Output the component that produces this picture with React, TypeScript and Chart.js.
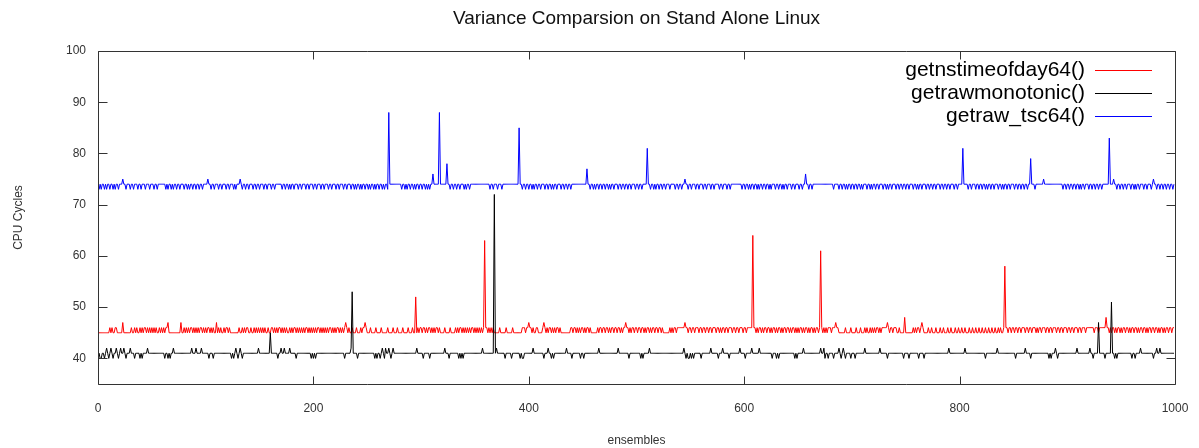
import React, { useEffect, useRef } from 'react';
import { Chart, registerables } from 'chart.js';

Chart.register(...registerables);

const chartTitle = 'Variance Comparsion on Stand Alone Linux';
const xAxisTitle = 'ensembles';
const yAxisTitle = 'CPU Cycles';
const seriesLabels = ['getnstimeofday64()', 'getrawmonotonic()', 'getraw_tsc64()'];
const seriesColors = ['#ff0000', '#000000', '#0000ff'];
const xTickValues = [0, 200, 400, 600, 800, 1000];
const yTickValues = [40, 50, 60, 70, 80, 90, 100];

// getnstimeofday64() - red
const getnstimeofday64 = [
  45,45,45,45,45,45,45,45,45,45, 45,46,45,46,45,45,46,46,45,45, 45,45,45,47,45,45,45,45,45,45, 45,46,45,45,46,45,46,45,45,46, 45,46,45,46,46,45,46,45,46,45,
  46,45,46,45,46,45,45,46,45,46, 45,46,45,46,46,47,45,45,45,45, 45,45,45,45,45,45,45,47,45,45, 46,45,46,45,46,45,46,46,45,46, 45,46,45,46,45,46,46,45,46,45,
  46,45,46,46,45,46,45,46,45,45, 47,45,46,45,46,45,45,46,45,46, 46,45,46,45,45,45,45,45,45,45, 45,46,45,45,46,45,46,45,46,46, 45,45,46,45,45,46,45,46,45,46,
  45,46,45,46,45,46,45,45,46,45, 45,46,46,45,46,45,46,45,46,46, 45,46,45,46,45,46,45,45,46,45, 46,45,46,46,45,46,45,46,45,46, 45,46,45,46,46,45,46,45,46,45,
  46,45,46,45,46,46,45,46,45,46, 45,46,45,46,45,46,46,45,46,45, 46,45,46,46,45,46,45,46,45,46, 47,46,45,46,45,45,46,45,45,45, 46,45,45,45,46,45,46,46,47,46,
  45,45,45,46,45,45,45,45,46,45, 45,45,45,46,45,45,45,45,45,46, 45,45,45,45,46,45,45,45,46,45, 45,45,45,46,45,45,45,45,46,45, 45,45,46,45,45,52,45,46,45,46,
  46,45,46,46,45,46,45,46,46,45, 46,45,46,45,46,46,45,46,45,45, 45,45,46,45,45,45,45,46,45,45, 45,45,46,45,46,45,46,46,45,46, 45,46,45,46,45,46,45,46,46,45,
  46,45,46,45,46,45,46,45,46,63, 46,46,45,46,45,46,45,46,45,45, 45,45,45,46,45,45,45,45,45,46, 45,45,45,45,45,46,45,45,45,45, 45,45,45,45,46,46,46,45,46,46,
  47,46,46,45,46,45,45,46,46,45, 45,45,45,46,47,46,45,46,45,46, 46,45,46,45,46,45,46,46,45,46, 45,45,45,45,45,45,45,45,45,46, 46,45,46,46,45,46,45,46,45,46,
  46,45,46,45,46,46,45,46,45,45, 45,45,45,45,46,45,46,46,45,46, 46,45,46,46,45,46,45,46,46,45, 46,46,45,46,46,45,46,45,46,46, 47,46,46,45,46,45,46,46,45,46,
  46,45,46,46,45,46,46,45,46,45, 46,46,45,46,45,46,46,45,46,46, 45,46,46,45,46,45,45,45,45,45, 45,46,45,46,45,46,46,45,46,46, 46,46,46,46,46,47,46,46,45,46,
  46,45,46,46,45,46,46,46,45,46, 46,45,46,46,45,46,46,45,46,46, 45,46,46,46,45,46,46,45,46,45, 46,46,45,46,46,45,46,46,46,45, 46,46,45,46,46,45,46,46,46,45,
  46,46,45,46,46,46,46,46,64,46, 46,45,46,45,46,46,45,46,45,46, 46,45,46,46,45,46,45,46,46,45, 46,45,46,46,45,46,45,46,46,45, 46,46,45,46,45,46,46,45,46,45,
  46,45,46,46,45,46,45,46,46,45, 46,45,46,46,45,46,45,46,46,45, 46,61,46,45,46,45,46,45,46,46, 46,45,46,46,46,47,46,46,45,45, 45,45,45,45,46,45,45,45,45,46,
  45,45,45,45,46,45,45,45,46,45, 45,45,46,45,46,45,45,46,45,46, 45,46,45,46,46,45,46,45,46,46, 46,46,46,47,46,45,46,46,45,46, 46,46,45,45,46,45,45,45,45,48,
  45,45,45,45,45,45,45,46,45,46, 45,46,46,45,46,47,46,45,45,45, 45,46,45,45,46,45,45,45,46,45, 45,45,46,45,45,46,45,45,45,46, 45,45,46,45,45,45,46,45,45,46,
  45,45,46,45,45,46,45,45,45,46, 45,45,46,45,45,46,45,45,46,45, 45,46,45,45,46,45,45,46,45,45, 46,45,45,46,45,45,46,45,46,45, 45,46,58,46,46,45,46,46,45,46,
  46,45,46,46,45,46,46,45,46,46, 46,45,46,46,45,46,46,45,46,46, 46,45,46,45,46,46,45,46,46,46, 45,46,46,45,46,46,45,46,46,46, 45,46,46,45,46,46,45,46,46,46,
  45,46,46,45,46,46,45,46,46,46, 45,46,46,45,46,46,46,45,46,46, 46,46,46,46,46,45,46,46,46,45, 46,46,46,46,46,46,48,46,46,45, 46,45,46,46,45,46,45,46,46,45,
  46,45,46,46,45,46,46,45,46,45, 46,46,45,46,46,45,46,45,46,46, 45,46,46,45,46,45,46,46,45,46, 46,45,46,46,45,46,45,46,46,45, 46,45,46,46,45,46,46,45,46,46,
];

// getrawmonotonic() - black
const getrawmonotonic = [
  40,41,40,40,41,41,40,41,42,41, 40,41,42,41,40,41,41,42,41,40, 41,42,41,41,42,41,40,41,41,41, 42,41,41,41,40,41,41,41,41,40, 41,40,41,41,41,41,42,41,41,41,
  41,41,41,41,41,41,41,41,41,41, 41,41,40,41,41,40,41,40,41,41, 42,41,41,41,41,41,41,41,41,41, 41,41,41,41,41,41,41,42,41,41, 41,42,41,41,41,41,42,41,41,41,
  41,41,41,40,41,41,41,40,41,41, 41,41,41,41,41,41,41,41,41,41, 41,41,41,41,40,41,40,41,42,41, 40,41,42,41,40,41,41,41,41,41, 41,41,41,41,41,41,41,41,41,42,
  41,41,41,41,41,41,41,41,41,41, 45,41,41,41,41,41,41,40,41,41, 42,41,41,42,41,41,41,41,42,41, 41,41,41,41,40,41,41,41,41,41, 41,41,41,41,41,41,41,41,40,41,
  40,41,40,41,41,41,41,41,41,41, 41,41,41,41,41,41,41,41,41,41, 41,41,41,41,41,41,41,41,41,40, 41,41,41,41,41,42,53,41,41,41, 41,40,41,41,41,41,41,41,41,41,
  41,41,41,41,41,41,41,40,41,40, 41,41,40,41,42,41,40,42,41,41, 42,41,40,41,42,41,41,41,41,41, 41,41,41,41,41,41,41,41,41,41, 41,41,41,41,41,41,42,41,41,41,
  41,41,40,41,41,41,41,41,40,41, 41,41,41,41,41,41,41,41,41,41, 41,41,42,41,41,41,40,41,41,41, 41,41,41,41,41,40,41,40,41,40, 41,41,41,41,41,41,41,41,41,41,
  41,41,41,41,41,41,41,42,41,41, 41,41,41,41,41,41,41,41,72,41, 42,41,41,41,41,41,41,41,40,41, 41,41,41,41,40,41,41,41,41,41, 41,41,40,41,40,40,41,41,41,41,
  41,41,41,41,42,41,41,41,41,41, 41,41,41,41,40,41,41,41,42,41, 41,40,41,40,41,41,41,41,41,41, 41,41,41,41,41,42,41,41,41,41, 40,41,41,41,41,41,41,41,40,41,
  41,40,41,41,41,41,41,41,41,41, 41,41,41,41,41,42,41,41,41,41, 41,41,41,41,41,41,41,41,41,41, 41,41,41,42,41,41,41,41,41,41, 41,41,41,40,41,41,41,41,41,41,
  41,41,41,41,40,41,40,41,41,41, 41,41,42,41,41,41,41,41,41,41, 41,41,41,41,41,41,41,41,41,41, 41,41,41,41,41,41,41,41,41,41, 41,41,41,41,42,41,40,41,40,40,
  41,40,41,40,41,41,41,41,41,41, 40,41,41,41,41,41,41,41,41,42, 41,41,41,41,41,41,40,41,41,41, 42,41,41,41,41,41,40,41,41,41, 41,41,41,41,41,41,42,41,41,41,
  41,40,41,41,41,41,41,42,41,41, 41,41,41,41,42,41,41,41,41,41, 41,41,41,41,41,41,40,41,41,41, 40,41,40,41,41,41,41,41,41,41, 41,41,41,41,41,41,41,40,41,40,
  41,41,41,41,41,42,41,41,41,41, 41,41,41,41,41,41,41,41,41,41, 41,42,41,41,42,40,41,41,40,41, 41,41,41,40,41,41,41,41,42,41, 40,41,42,41,40,41,41,41,41,40,
  41,41,41,40,41,41,41,41,41,41, 41,41,42,41,41,41,41,41,41,41, 41,41,41,41,41,41,42,41,41,41, 41,41,41,40,41,41,41,41,41,41, 41,41,41,41,41,41,41,41,40,41,
  41,41,41,40,41,41,41,41,41,41, 41,41,40,41,41,41,41,40,41,41, 41,41,41,41,41,41,41,41,41,41, 41,41,41,41,41,41,41,41,41,41, 42,41,41,41,41,41,41,41,41,41,
  41,41,41,41,41,42,41,41,41,41, 41,41,41,41,41,41,41,41,41,41, 41,41,41,41,40,41,41,41,41,41, 41,41,41,41,41,42,41,41,41,41, 41,41,41,41,41,41,41,41,41,41,
  41,41,40,41,41,41,41,41,41,41, 41,42,41,41,41,41,40,41,41,41, 41,41,41,41,41,41,41,41,41,41, 41,41,41,40,41,40,41,41,41,42, 41,40,41,41,41,41,41,41,41,41,
  41,41,41,41,41,41,41,41,41,42, 41,41,41,41,41,41,41,41,41,41, 41,42,41,41,40,41,41,41,41,47, 41,41,41,41,41,40,41,41,41,41, 41,51,41,41,40,41,40,41,41,41,
  41,41,41,41,41,41,41,41,41,41, 40,41,41,40,41,41,41,41,42,41, 41,41,41,41,41,41,41,41,41,41, 40,41,41,42,41,41,42,41,41,41, 41,41,41,41,41,41,41,41,41,41,
];

// getraw_tsc64() - blue
const getraw_tsc64 = [
  74,73,74,73,74,74,73,74,73,74, 74,73,74,74,73,74,73,74,74,73, 74,74,74,75,74,74,73,74,74,74, 73,74,74,73,74,74,74,73,74,74, 73,74,74,74,73,74,74,74,73,74,
  74,74,73,74,74,73,74,74,74,74, 74,74,74,73,74,73,74,74,73,74, 73,74,74,73,74,74,73,74,74,74, 73,74,74,73,74,73,74,74,73,74, 74,73,74,74,73,74,74,73,74,74,
  74,74,75,74,74,73,74,74,73,74, 74,74,73,74,74,73,74,74,74,73, 74,74,73,74,74,74,73,74,73,74, 74,74,75,74,73,74,74,73,74,74, 73,74,74,74,73,74,74,73,74,74,
  73,74,74,74,73,74,74,73,74,74, 74,73,74,74,73,74,74,74,74,74, 74,73,74,74,73,74,74,73,74,73, 74,74,73,74,74,74,73,74,74,73, 74,74,74,73,74,74,73,74,74,74,
  73,74,74,73,74,74,74,73,74,74, 73,74,74,74,73,74,74,73,74,74, 74,73,74,74,73,74,74,74,73,74, 74,73,74,74,74,73,74,74,73,74, 73,74,74,73,74,73,74,74,73,74,
  74,73,74,73,74,74,73,74,73,74, 74,73,74,74,73,74,73,74,74,73, 88,74,74,74,74,74,74,74,74,74, 74,74,73,74,74,73,74,73,74,74, 73,74,74,73,74,73,74,74,73,74,
  74,73,74,74,73,74,73,74,73,74, 74,76,74,74,74,74,74,88,74,74, 74,74,74,74,78,74,74,73,74,74, 73,74,74,73,74,74,73,74,74,74, 73,74,73,74,74,73,74,74,74,74,
  74,74,74,74,74,74,74,74,74,74, 74,74,74,74,73,74,74,73,74,74, 74,73,74,74,74,73,74,74,74,74, 74,74,74,74,74,74,74,74,74,74, 74,85,74,74,73,74,74,73,74,74,
  73,74,74,73,74,73,74,74,73,74, 74,73,74,74,74,73,74,74,73,74, 74,73,74,73,74,74,73,74,74,74, 73,74,74,73,74,74,73,74,74,73, 74,74,74,74,74,74,74,74,74,74,
  74,74,74,74,77,74,74,73,74,74, 73,74,73,74,74,73,74,74,73,74, 74,73,74,74,73,74,73,74,74,73, 74,74,74,73,74,74,73,74,74,73, 74,74,73,74,74,73,74,74,74,73,
  74,74,73,74,74,73,74,74,74,74, 81,74,74,73,74,74,73,74,73,74, 74,73,74,74,73,74,74,73,74,74, 74,73,74,74,74,74,73,74,74,73, 74,74,73,74,74,75,74,74,73,74,
  74,73,74,74,74,73,74,74,73,74, 74,74,73,74,74,73,74,74,74,73, 74,74,73,74,74,74,74,73,74,74, 73,74,74,74,73,74,74,73,74,74, 74,74,74,74,74,74,74,74,73,74,
  74,73,74,74,73,74,73,74,74,73, 74,74,73,74,73,74,74,73,74,74, 73,74,74,73,74,73,74,74,74,73, 74,74,73,74,74,73,74,73,74,74, 73,74,74,74,73,74,74,73,74,74,
  74,73,74,74,73,74,74,76,74,74, 73,74,74,73,74,74,74,74,74,74, 74,74,74,74,74,74,74,74,74,74, 74,74,74,73,74,74,74,74,73,74, 74,73,74,74,73,74,73,74,74,73,
  74,74,73,74,74,73,74,74,73,74, 73,74,74,74,73,74,74,73,74,73, 74,74,73,74,74,73,74,74,74,73, 74,74,73,74,73,74,74,73,74,74, 74,73,74,74,73,74,74,73,74,74,
  73,74,74,73,74,74,74,73,74,74, 73,74,73,74,74,73,74,74,74,73, 74,74,73,74,74,73,74,74,73,74, 74,74,73,74,74,73,74,74,73,74, 74,73,74,74,74,73,74,74,73,74,
  74,74,74,81,74,74,74,74,73,74, 74,73,74,74,74,73,74,74,73,74, 74,73,74,74,73,74,73,74,74,73, 74,74,73,74,74,74,73,74,74,73, 74,73,74,74,73,74,74,73,74,74,
  74,73,74,74,73,74,74,73,74,74, 73,74,74,73,74,74,79,74,74,74, 73,74,74,74,74,74,74,74,75,74, 74,74,74,74,74,74,74,74,74,74, 74,74,74,74,74,74,73,74,74,73,
  74,74,73,74,74,73,74,74,73,74, 74,73,74,73,74,74,73,74,74,74, 73,74,74,73,74,74,73,74,74,73, 74,74,73,74,74,74,74,74,74,83, 74,74,74,75,74,74,73,74,74,73,
  74,74,73,74,74,73,74,74,74,73, 74,74,73,74,73,74,74,73,74,74, 74,73,74,74,73,74,74,74,73,74, 75,74,74,73,74,74,73,74,74,73, 74,74,73,74,74,73,74,74,73,74,
];

const seriesValues = [getnstimeofday64, getrawmonotonic, getraw_tsc64];
const drawOrder = [1, 0, 2];

const FONT = "'Liberation Sans', Arial, Helvetica, sans-serif";

const framePlugin = {
  id: 'gnuplotFrame',
  afterDatasetsDraw(chart: any) {
    const { ctx, chartArea, scales } = chart;
    const { left, right, top, bottom } = chartArea;
    const xs = scales.x;
    const ys = scales.y;
    ctx.save();
    ctx.strokeStyle = '#333333';
    ctx.lineWidth = 1;
    const L = Math.round(left) + 0.5;
    const R = Math.round(right) + 0.5;
    const T = Math.round(top) + 0.5;
    const B = Math.round(bottom) + 0.5;
    ctx.beginPath();
    ctx.rect(L, T, R - L, B - T);
    ctx.stroke();
    ctx.beginPath();
    xTickValues.forEach((v) => {
      const px = Math.round(xs.getPixelForValue(v)) + 0.5;
      ctx.moveTo(px, B);
      ctx.lineTo(px, B - 8);
      ctx.moveTo(px, T);
      ctx.lineTo(px, T + 8);
    });
    yTickValues.forEach((v) => {
      const py = Math.round(ys.getPixelForValue(v)) + 0.5;
      ctx.moveTo(L, py);
      ctx.lineTo(L + 9, py);
      ctx.moveTo(R, py);
      ctx.lineTo(R - 9, py);
    });
    ctx.stroke();

    // key (legend) in the top-right corner of the plot
    ctx.font = `21px ${FONT}`;
    ctx.textAlign = 'right';
    ctx.textBaseline = 'middle';
    chart.data.datasets.forEach((ds: any, i: number) => {
      const y = Math.round(top + 19 + i * 23) + 0.5;
      ctx.fillStyle = '#000000';
      ctx.fillText(ds.label, right - 90, y);
      ctx.strokeStyle = ds.borderColor;
      ctx.lineWidth = 1.2;
      ctx.beginPath();
      ctx.moveTo(right - 80, y);
      ctx.lineTo(right - 23, y);
      ctx.stroke();
    });
    ctx.restore();
  },
};

export default function App() {
  const canvasRef = useRef<HTMLCanvasElement | null>(null);

  useEffect(() => {
    document.body.style.margin = '0';
    const canvas = canvasRef.current;
    if (!canvas) return;
    const chart = new Chart(canvas, {
      type: 'line',
      data: {
        datasets: seriesLabels.map((label, i) => ({
          label,
          data: seriesValues[i].map((v, idx) => ({ x: idx, y: v })),
          borderColor: seriesColors[i],
          backgroundColor: seriesColors[i],
          borderWidth: 1,
          pointRadius: 0,
          tension: 0,
          fill: false,
          order: drawOrder[i],
        })),
      },
      options: {
        animation: false,
        responsive: false,
        maintainAspectRatio: false,
        devicePixelRatio: 1,
        layout: { padding: { left: 0, right: 24, top: 0, bottom: 0 } },
        plugins: {
          legend: { display: false },
          tooltip: { enabled: false },
          title: {
            display: true,
            text: chartTitle,
            fullSize: false,
            color: '#111111',
            font: { family: FONT, size: 19, weight: 'normal' },
            padding: { top: 7, bottom: 21.2 },
          },
        },
        scales: {
          x: {
            type: 'linear',
            min: 0,
            max: 1000,
            afterFit: (s: any) => {
              s.height = 64;
              s.paddingLeft = 0;
              s.paddingRight = 0;
            },
            afterBuildTicks: (s: any) => { s.ticks = xTickValues.map((v) => ({ value: v })); },
            grid: { display: false, drawTicks: false },
            border: { display: false },
            ticks: {
              padding: 17,
              color: '#333333',
              font: { family: FONT, size: 12 },
              maxRotation: 0,
              callback: (v: any) => String(v),
            },
            title: {
              display: true,
              text: xAxisTitle,
              color: '#333333',
              font: { family: FONT, size: 12 },
              padding: { top: 1, bottom: 0 },
            },
          },
          y: {
            type: 'linear',
            min: 35,
            max: 100,
            afterFit: (s: any) => {
              s.width = 98;
              s.paddingTop = 0;
              s.paddingBottom = 0;
            },
            afterBuildTicks: (s: any) => { s.ticks = yTickValues.map((v) => ({ value: v })); },
            grid: { display: false, drawTicks: false },
            border: { display: false },
            ticks: {
              padding: 12,
              color: '#333333',
              font: { family: FONT, size: 12 },
              callback: (v: any) => String(v),
            },
            title: {
              display: true,
              text: yAxisTitle,
              color: '#333333',
              font: { family: FONT, size: 12 },
              padding: { top: 11, bottom: 0 },
            },
          },
        },
      },
      plugins: [framePlugin],
    } as any);
    return () => chart.destroy();
  }, []);

  return (
    <div style={{ width: 1199, height: 448, position: 'relative' }}>
      <canvas ref={canvasRef} width={1199} height={448} style={{ display: 'block' }} />
    </div>
  );
}
